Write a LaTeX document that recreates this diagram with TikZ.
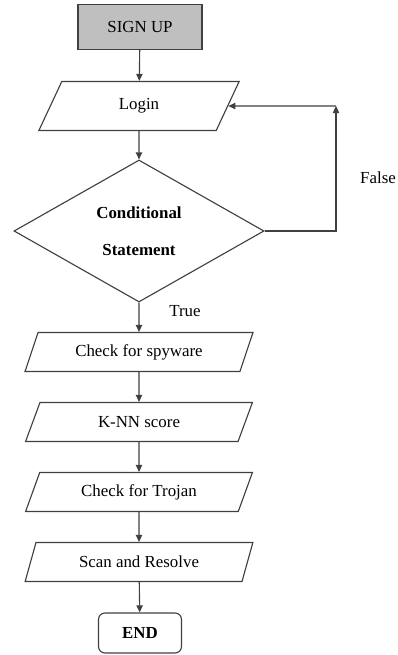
\documentclass[tikz,border=0pt]{standalone}
\usepackage{fontspec}
\setmainfont{Liberation Serif}
\usetikzlibrary{positioning,shapes,arrows.meta}

\begin{document}
\begin{tikzpicture}[x=0.025cm, y=-0.025cm,
    every node/.style={font=\fontsize{12}{14.4}\selectfont},
    line/.style={draw=black!75, line width=0.8pt},
    flow/.style={line, -{Triangle[length=5pt,width=4.5pt]}},
    io/.style={trapezium, trapezium left angle=62, trapezium right angle=118,
      trapezium stretches=true, minimum width=5.7cm, minimum height=0.975cm,
      inner sep=0pt, line, fill=white, text=black}]
  \useasboundingbox (0,0) rectangle (397,655);
  \node[rectangle, line, fill=black!25, minimum width=3.1cm, minimum height=1.125cm] (signup) at (140,27) {SIGN UP};
  \node[io, trapezium left angle=68, trapezium right angle=112, minimum width=5.025cm, minimum height=1.225cm] (login) at (139,106) {Login};
  \node[diamond, line, minimum width=6.25cm, minimum height=3.55cm, inner sep=0pt, align=center, font=\fontsize{12}{14.4}\selectfont\bfseries] (cond) at (139,231) {Conditional\\[12pt]Statement};
  \node[io] (spy) at (139,352) {Check for spyware};
  \node[io] (knn) at (139,422) {K-NN score};
  \node[io] (trojan) at (139,492) {Check for Trojan};
  \node[io] (scan) at (139,562) {Scan and Resolve};
  \node[rectangle, rounded corners=1ex, line, minimum width=2.075cm, minimum height=1cm, font=\fontsize{12}{14.4}\selectfont\bfseries] (end) at (140,633) {END};
  \coordinate (loop) at (336,106);
  \node (false) at (378,178) {False};
  \node (true) at (185,311) {True};

  % main flow
  \draw[flow] (signup) -- (login);
  \draw[flow] (login) -- (cond);
  \draw[flow] (cond) -- (spy);
  \draw[flow] (spy) -- (knn);
  \draw[flow] (knn) -- (trojan);
  \draw[flow] (trojan) -- (scan);
  \draw[flow] (scan) -- (end);
  % false branch back to login
  \draw[flow] (cond.east) -| (loop);
  \draw[flow] (loop) -- (login.east);
\end{tikzpicture}
\end{document}
